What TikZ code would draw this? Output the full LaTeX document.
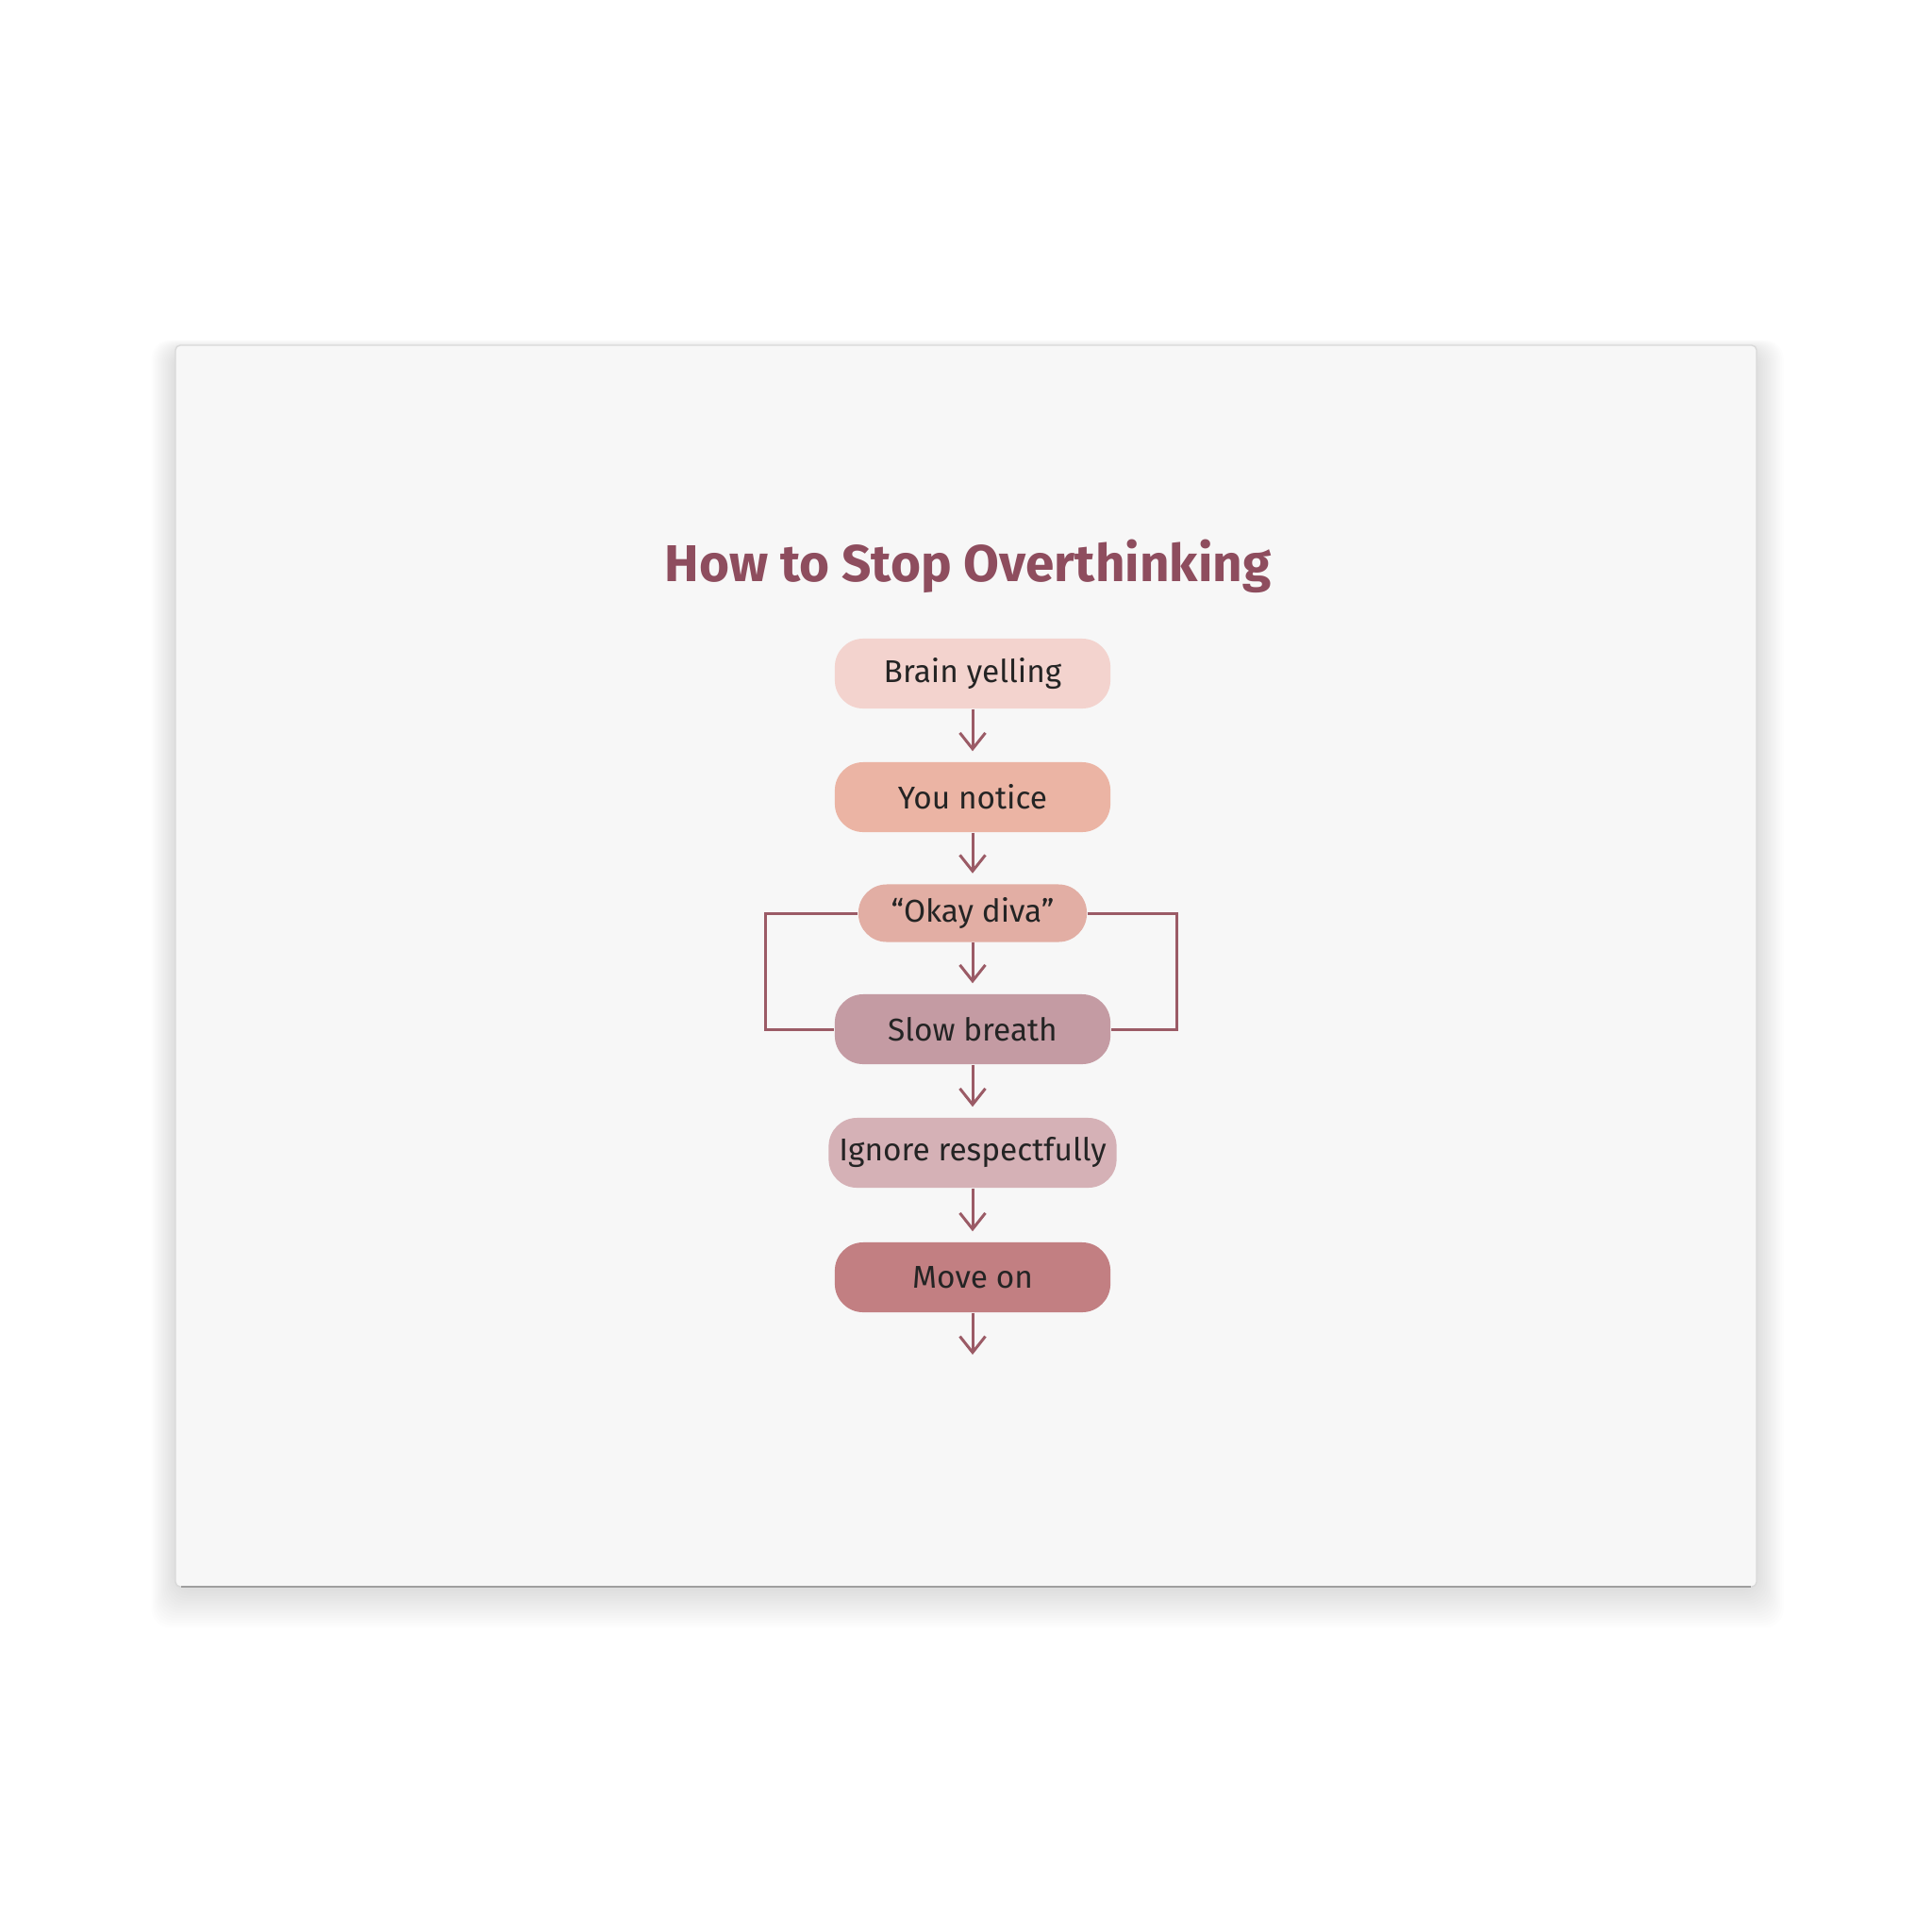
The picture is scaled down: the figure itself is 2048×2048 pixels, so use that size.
\documentclass[tikz,border=0pt]{standalone}
\usepackage{fontspec}
\setmainfont{Fira Sans}
\usetikzlibrary{arrows.meta}
\definecolor{titlecol}{HTML}{8E4D5E}
\definecolor{linecol}{HTML}{9B5B66}
\definecolor{txtcol}{HTML}{242424}
\definecolor{canvascol}{HTML}{F7F7F7}
\definecolor{brainfill}{HTML}{F3D3CE}
\definecolor{noticefill}{HTML}{EBB4A4}
\definecolor{okayfill}{HTML}{E2AEA4}
\definecolor{slowfill}{HTML}{C49BA3}
\definecolor{ignorefill}{HTML}{D5B1B6}
\definecolor{moveonfill}{HTML}{C27F82}
\begin{document}
\begin{tikzpicture}[x=0.01cm,y=-0.01cm,
  stepbox/.style={rounded corners=0.3cm, minimum width=2.92cm, minimum height=0.74cm,
    inner sep=0pt, text=txtcol, font=\fontsize{9.5}{12}\selectfont},
  flow/.style={draw=linecol, line width=0.85pt, -{Straight Barb[length=0.17cm,width=0.27cm,line width=0.85pt]}},
  loop/.style={draw=linecol, line width=0.85pt}]

\useasboundingbox (0,0) rectangle (2048,2048);

\fill[white] (0,0) rectangle (2048,2048);
% soft shadow of the canvas
\foreach \s in {1,...,16}
  \fill[black, opacity=0.009, rounded corners=0.2cm] (186-1.6*\s,370-0.6*\s) rectangle (1862+1.8*\s,1684+2.6*\s);
\draw[draw=gray!30, fill=canvascol, line width=0.4pt, rounded corners=0.05cm]
  (186,366) rectangle (1862,1682);
\draw[gray!75, line width=0.6pt] (192,1682) -- (1856,1682);

\node[anchor=base, text=titlecol, font=\fontsize{15.6}{18}\selectfont\bfseries] (title) at (1026,616) {How to Stop Overthinking};

\node[stepbox, fill=brainfill] (brain) at (1031,714) {Brain yelling};
\node[stepbox, fill=noticefill] (notice) at (1031,845) {You notice};
\node[stepbox, fill=okayfill, minimum width=2.42cm, minimum height=0.61cm] (okay) at (1031,968) {“Okay diva”};
\node[stepbox, fill=slowfill] (slow) at (1031,1091) {Slow breath};
\node[stepbox, fill=ignorefill, minimum width=3.05cm] (ignore) at (1031,1222) {Ignore respectfully};
\node[stepbox, fill=moveonfill] (moveon) at (1031,1354) {Move on};

\coordinate (out) at (1031,1436);

\draw[flow, shorten >=0.11cm] (brain) -- (notice);
\draw[flow, shorten >=0.11cm] (notice) -- (okay);
\draw[flow, shorten >=0.11cm] (okay) -- (slow);
\draw[flow, shorten >=0.11cm] (slow) -- (ignore);
\draw[flow, shorten >=0.11cm] (ignore) -- (moveon);
\draw[flow] (moveon) -- (out);

\draw[loop] (okay.west) -- ++(-98,0) |- (slow.west);
\draw[loop] (okay.east) -- ++(95,0) |- (slow.east);
\end{tikzpicture}
\end{document}
